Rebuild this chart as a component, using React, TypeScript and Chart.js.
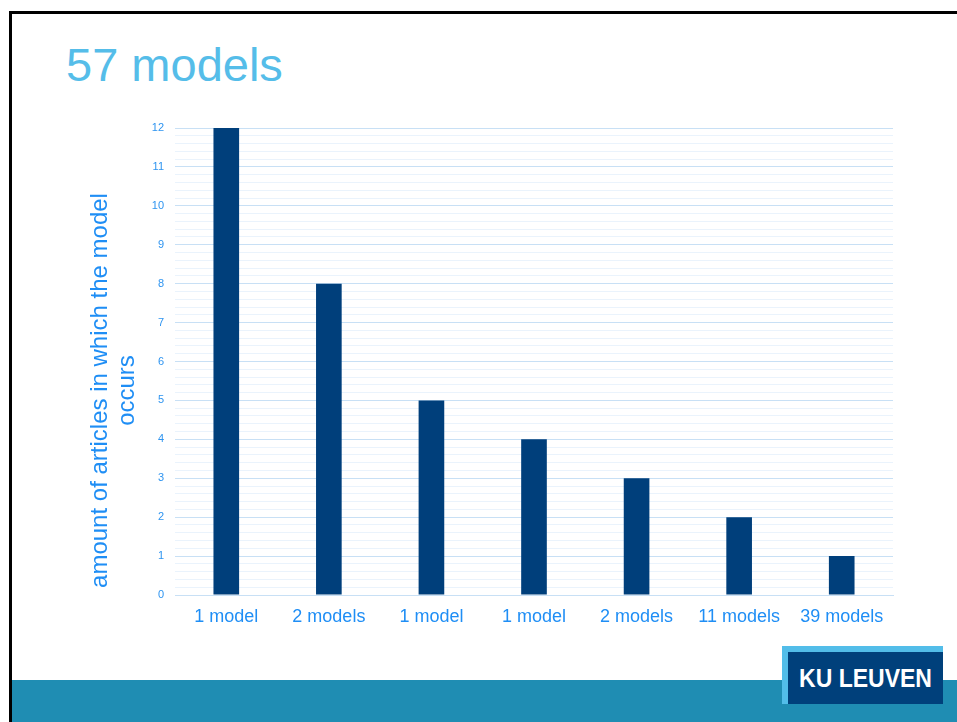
import React, { useEffect, useRef } from "react";
import { Chart, registerables } from "chart.js";

Chart.register(...registerables);

const categories = ["1 model", "2 models", "1 model", "1 model", "2 models", "11 models", "39 models"];
const articleCounts = [12, 8, 5, 4, 3, 2, 1];
const yTitleLines = ["amount of articles in which the model", "occurs"];
const slideTitle = "57 models";
const logoText = "KU LEUVEN";

const FONT = "'Liberation Sans', Arial, sans-serif";

const yTitlePlugin = {
  id: "yTitleOffset",
  afterDraw(chart: any) {
    const ctx = chart.ctx;
    const area = chart.chartArea;
    ctx.save();
    ctx.fillStyle = "#1f8ef5";
    ctx.font = `24px ${FONT}`;
    ctx.textAlign = "center";
    ctx.textBaseline = "middle";
    const cy = (area.top + area.bottom) / 2 + 29;
    yTitleLines.forEach((line, i) => {
      ctx.save();
      ctx.translate(100 + i * 27, cy);
      ctx.rotate(-Math.PI / 2);
      ctx.fillText(line, 0, 0);
      ctx.restore();
    });
    ctx.restore();
  },
};

export default function App() {
  const canvasRef = useRef<HTMLCanvasElement | null>(null);

  useEffect(() => {
    const canvas = canvasRef.current;
    if (!canvas) return;
    const isMajor = (v: number) => Math.abs(v - Math.round(v)) < 1e-6;
    const chart = new Chart(canvas, {
      type: "bar",
      data: {
        labels: categories,
        datasets: [
          {
            data: articleCounts,
            backgroundColor: "#003f7b",
            barPercentage: 0.25,
            categoryPercentage: 1,
          },
        ],
      },
      options: {
        animation: false,
        responsive: false,
        devicePixelRatio: 1,
        layout: { padding: { left: 83, top: 128, right: 64, bottom: 87 } },
        plugins: { legend: { display: false }, tooltip: { enabled: false } },
        scales: {
          x: {
            grid: { display: false },
            border: { display: true, color: "#c8e0f5", width: 1 },
            ticks: {
              color: "#1f8ef5",
              padding: 3,
              font: { family: FONT, size: 18 },
              maxRotation: 0,
              autoSkip: false,
            },
            afterFit: (scale: any) => {
              scale.height = 40;
            },
          },
          y: {
            min: 0,
            max: 12,
            border: { display: false },
            grid: {
              drawTicks: false,
              color: (ctx: any) => (ctx.tick && isMajor(ctx.tick.value) ? "#c8e0f5" : "#eaf3fc"),
              lineWidth: 1,
            },
            ticks: {
              stepSize: 0.2,
              autoSkip: false,
              maxTicksLimit: 200,
              padding: 11,
              color: "#2e94f0",
              font: { family: FONT, size: 11 },
              callback: (v: any) => (isMajor(Number(v)) ? String(Math.round(Number(v))) : ""),
            },
            title: { display: false },
            afterFit: (scale: any) => {
              scale.width = 92;
            },
          },
        },
      },
      plugins: [yTitlePlugin],
    });
    return () => chart.destroy();
  }, []);

  return (
    <div
      style={{
        position: "fixed",
        left: 0,
        top: 0,
        width: 957,
        height: 722,
        background: "#ffffff",
        overflow: "hidden",
        fontFamily: FONT,
      }}
    >
      <div
        style={{
          position: "absolute",
          left: 9,
          top: 11,
          width: 960,
          height: 720,
          borderTop: "3px solid #000",
          borderLeft: "3px solid #000",
        }}
      />
      <div
        style={{
          position: "absolute",
          left: 12,
          top: 680,
          width: 945,
          height: 42,
          background: "#1f8db3",
        }}
      />
      <div
        style={{
          position: "absolute",
          left: 66,
          top: 41,
          fontSize: 47,
          lineHeight: "47px",
          color: "#55bde9",
          whiteSpace: "nowrap",
        }}
      >
        {slideTitle}
      </div>
      <canvas
        ref={canvasRef}
        width={957}
        height={722}
        style={{ position: "absolute", left: 0, top: 0, width: 957, height: 722 }}
      />
      <div
        style={{
          position: "absolute",
          left: 782,
          top: 646,
          width: 161,
          height: 58,
          background: "#52bde9",
        }}
      />
      <div
        style={{
          position: "absolute",
          left: 788,
          top: 652,
          width: 155,
          height: 52,
          background: "#00407b",
          color: "#ffffff",
          display: "flex",
          alignItems: "center",
          justifyContent: "center",
        }}
      >
        <span
          style={{
            fontWeight: "bold",
            fontSize: 23,
            display: "inline-block",
            transform: "scaleY(1.12)",
            whiteSpace: "nowrap",
          }}
        >
          {logoText}
        </span>
      </div>
    </div>
  );
}
